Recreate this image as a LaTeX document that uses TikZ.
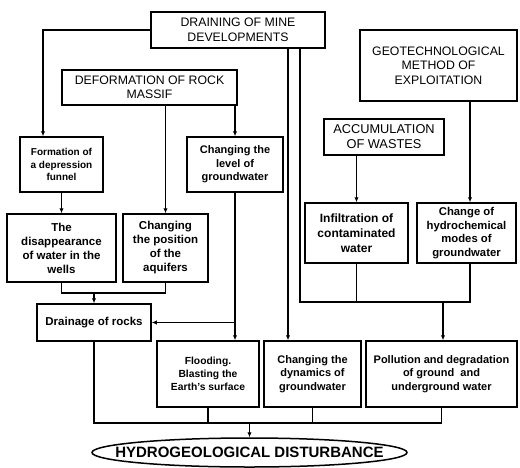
\documentclass[tikz,border=0pt]{standalone}
\usepackage{fontspec}
\setmainfont{Liberation Sans}
\usetikzlibrary{arrows.meta,shapes.geometric}
\begin{document}
\begin{tikzpicture}[x=1pt,y=-1pt,
  bx/.style={draw, line width=1.5pt, align=center, inner sep=1pt},
  capsfont/.style={font=\fontsize{12.3}{14.5}\selectfont},
  ln/.style={line width=1.2pt},
  arr/.style={ln, -{Latex[length=5pt,width=4.5pt]}}]
\useasboundingbox (0,0) rectangle (520,467);
% top level boxes
\node[bx, capsfont, minimum width=174pt, minimum height=36pt] (drain) at (238,30) {DRAINING OF MINE\\DEVELOPMENTS};
\node[bx, capsfont, minimum width=175pt, minimum height=35pt] (deform) at (149.5,87.5) {DEFORMATION OF ROCK\\MASSIF};
\node[bx, capsfont, minimum width=157pt, minimum height=71pt] (geo) at (438.5,65.5) {GEOTECHNOLOGICAL\\METHOD OF\\EXPLOITATION};
\node[bx, font=\fontsize{12.8}{15}\selectfont, minimum width=120pt, minimum height=36pt] (accum) at (384,137) {ACCUMULATION\\OF WASTES};
% second level
\node[bx, font=\fontsize{10}{12.5}\selectfont\bfseries, minimum width=83pt, minimum height=55pt] (form) at (61.5,164.5) {Formation of\\a depression\\funnel};
\node[bx, font=\fontsize{11}{13.5}\selectfont\bfseries, minimum width=96pt, minimum height=55pt] (level) at (235,164.5) {Changing the\\level of\\groundwater};
\node[bx, font=\fontsize{11.5}{14}\selectfont\bfseries, minimum width=109pt, minimum height=68pt] (disap) at (61.5,248) {The\\disappearance\\of water in the\\wells};
\node[bx, font=\fontsize{11.5}{14}\selectfont\bfseries, minimum width=85pt, minimum height=68pt] (posit) at (165.5,248) {Changing\\the position\\of the\\aquifers};
\node[bx, font=\fontsize{12}{15}\selectfont\bfseries, minimum width=103pt, minimum height=60pt] (infil) at (356.5,233) {Infiltration of\\contaminated\\water};
\node[bx, font=\fontsize{11.3}{13.7}\selectfont\bfseries, minimum width=99pt, minimum height=60pt] (chem) at (466.5,233) {Change of\\hydrochemical\\modes of\\groundwater};
% third level
\node[bx, font=\fontsize{11.5}{14}\selectfont\bfseries, minimum width=114pt, minimum height=37pt] (drainage) at (94,322.5) {Drainage of rocks};
\node[bx, font=\fontsize{10.3}{12.8}\selectfont\bfseries, minimum width=102pt, minimum height=66pt] (flood) at (208,374) {Flooding.\\Blasting the\\Earth's surface};
\node[bx, font=\fontsize{11}{13.5}\selectfont\bfseries, minimum width=97pt, minimum height=66pt] (dyn) at (312.5,374) {Changing the\\dynamics of\\groundwater};
\node[bx, font=\fontsize{11}{13.5}\selectfont\bfseries, minimum width=151pt, minimum height=66pt] (poll) at (441.5,374) {Pollution and degradation\\of ground~ and\\underground water};
% result
\node[draw, ellipse, line width=1.5pt, minimum width=315pt, minimum height=29pt, inner sep=0pt] (hyd) at (249.5,452.5) {};
\node[font=\fontsize{15}{17}\selectfont\bfseries] (hydt) at (hyd) {HYDROGEOLOGICAL DISTURBANCE};
% helper coordinates
\coordinate (cf) at (43,0);
\coordinate (cd1) at (288,0);
\coordinate (cd2) at (300,0);
\coordinate (cc) at (470,0);
\coordinate (jl) at (94,293);
\coordinate (jr) at (443,302);
\coordinate (jb) at (249.5,423);
% connectors
\draw[arr] (drain.west) -| (cf |- form.north);
\draw[arr] (posit.north |- deform.south) -- (posit.north);
\draw[arr] (level.north |- deform.south) -- (level.north);
\draw[arr] (form.south) -- (disap.north);
\draw[ln] (disap.south) |- (posit.south |- jl) -- (posit.south);
\draw[arr] (jl) -- (drainage.north);
\draw[arr] (level.south) -- (level.south |- flood.north);
\draw[arr] (level.south |- drainage.east) -- (drainage.east);
\draw[arr] (cd1 |- drain.south) -- (cd1 |- dyn.north);
\draw[ln] (cd2 |- drain.south) |- (cc |- jr) -- (cc |- chem.south);
\draw[ln] (infil.south) -- (infil.south |- jr);
\draw[arr] (jr) -- (poll.north -| jr);
\draw[arr] (accum.south -| infil.north) -- (infil.north);
\draw[arr] (cc |- geo.south) -- (cc |- chem.north);
\draw[ln] (drainage.south) |- (poll.south |- jb) -- (poll.south);
\draw[ln] (flood.south) -- (flood.south |- jb);
\draw[ln] (dyn.south) -- (dyn.south |- jb);
\draw[arr] (jb) -- (hyd.north);
\end{tikzpicture}
\end{document}
